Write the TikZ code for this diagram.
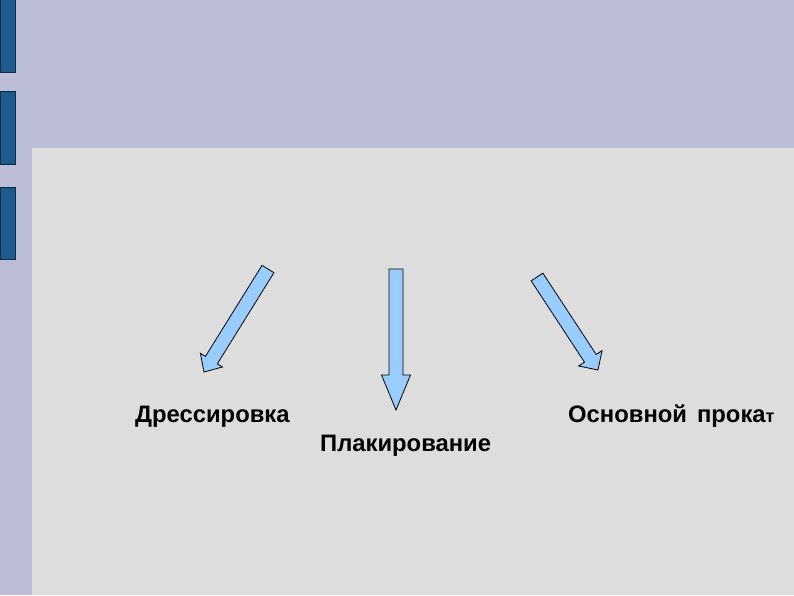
\documentclass[tikz,border=0pt]{standalone}
\usepackage{fontspec}
\setmainfont{Liberation Sans}
\usetikzlibrary{calc}

\definecolor{slidebg}{HTML}{BCBED6}
\definecolor{panelgray}{HTML}{DDDDDD}
\definecolor{barblue}{HTML}{1F5A8C}
\definecolor{barline}{HTML}{0E2C4A}
\definecolor{arrowblue}{HTML}{99CCFF}

\tikzset{
  sidebar/.style={fill=barblue, draw=barline, line width=1pt},
  blockfill/.style={fill=arrowblue, draw=black, line width=0.8pt, line join=miter},
  label/.style={font=\fontsize{23.8}{28}\selectfont\bfseries, inner sep=0pt}
}

% tail, tip, head length, head half width
\newcommand{\blockarrow}[4]{%
  \coordinate (neck) at ($(#2)!#3!(#1)$);
  \filldraw[blockfill] ($(#1)!7pt!-90:(#2)$) -- ($(neck)!7pt!-90:(#2)$)
    -- ($(neck)!#4!-90:(#2)$) -- (#2) -- ($(neck)!#4!90:(#2)$)
    -- ($(neck)!7pt!90:(#2)$) -- ($(#1)!7pt!90:(#2)$) -- cycle;
}

\begin{document}
\begin{tikzpicture}[x=1pt, y=-1pt]
    \useasboundingbox (0,0) rectangle (794,595);

    %background
    \fill[slidebg] (0,0) rectangle (794,595);
    \fill[panelgray] (32,148) rectangle (794,595);

    %side bars
    \filldraw[sidebar] (0,-2) rectangle (15,72);
    \filldraw[sidebar] (0,91) rectangle (15,164);
    \filldraw[sidebar] (0,187) rectangle (15,259);

    %arrows
    \coordinate (tailL) at (268,269);
    \coordinate (tipL) at (204,372);
    \coordinate (tailM) at (396,269);
    \coordinate (tipM) at (396,410);
    \coordinate (tailR) at (537,277);
    \coordinate (tipR) at (598,370);
    \blockarrow{tailL}{tipL}{14pt}{13pt}
    \blockarrow{tailM}{tipM}{35pt}{14.5pt}
    \blockarrow{tailR}{tipR}{14pt}{14pt}

    %labels
    \node[label, anchor=base west] (dress) at (135,422) {Дрессировка};
    \node[label, anchor=base west] (plak) at (320,451) {Плакирование};
    \node[label, anchor=base west] (osn) at (568,422) {Основной\hspace{10pt}прока{\fontsize{18}{20}\selectfont т}};

\end{tikzpicture}
\end{document}
